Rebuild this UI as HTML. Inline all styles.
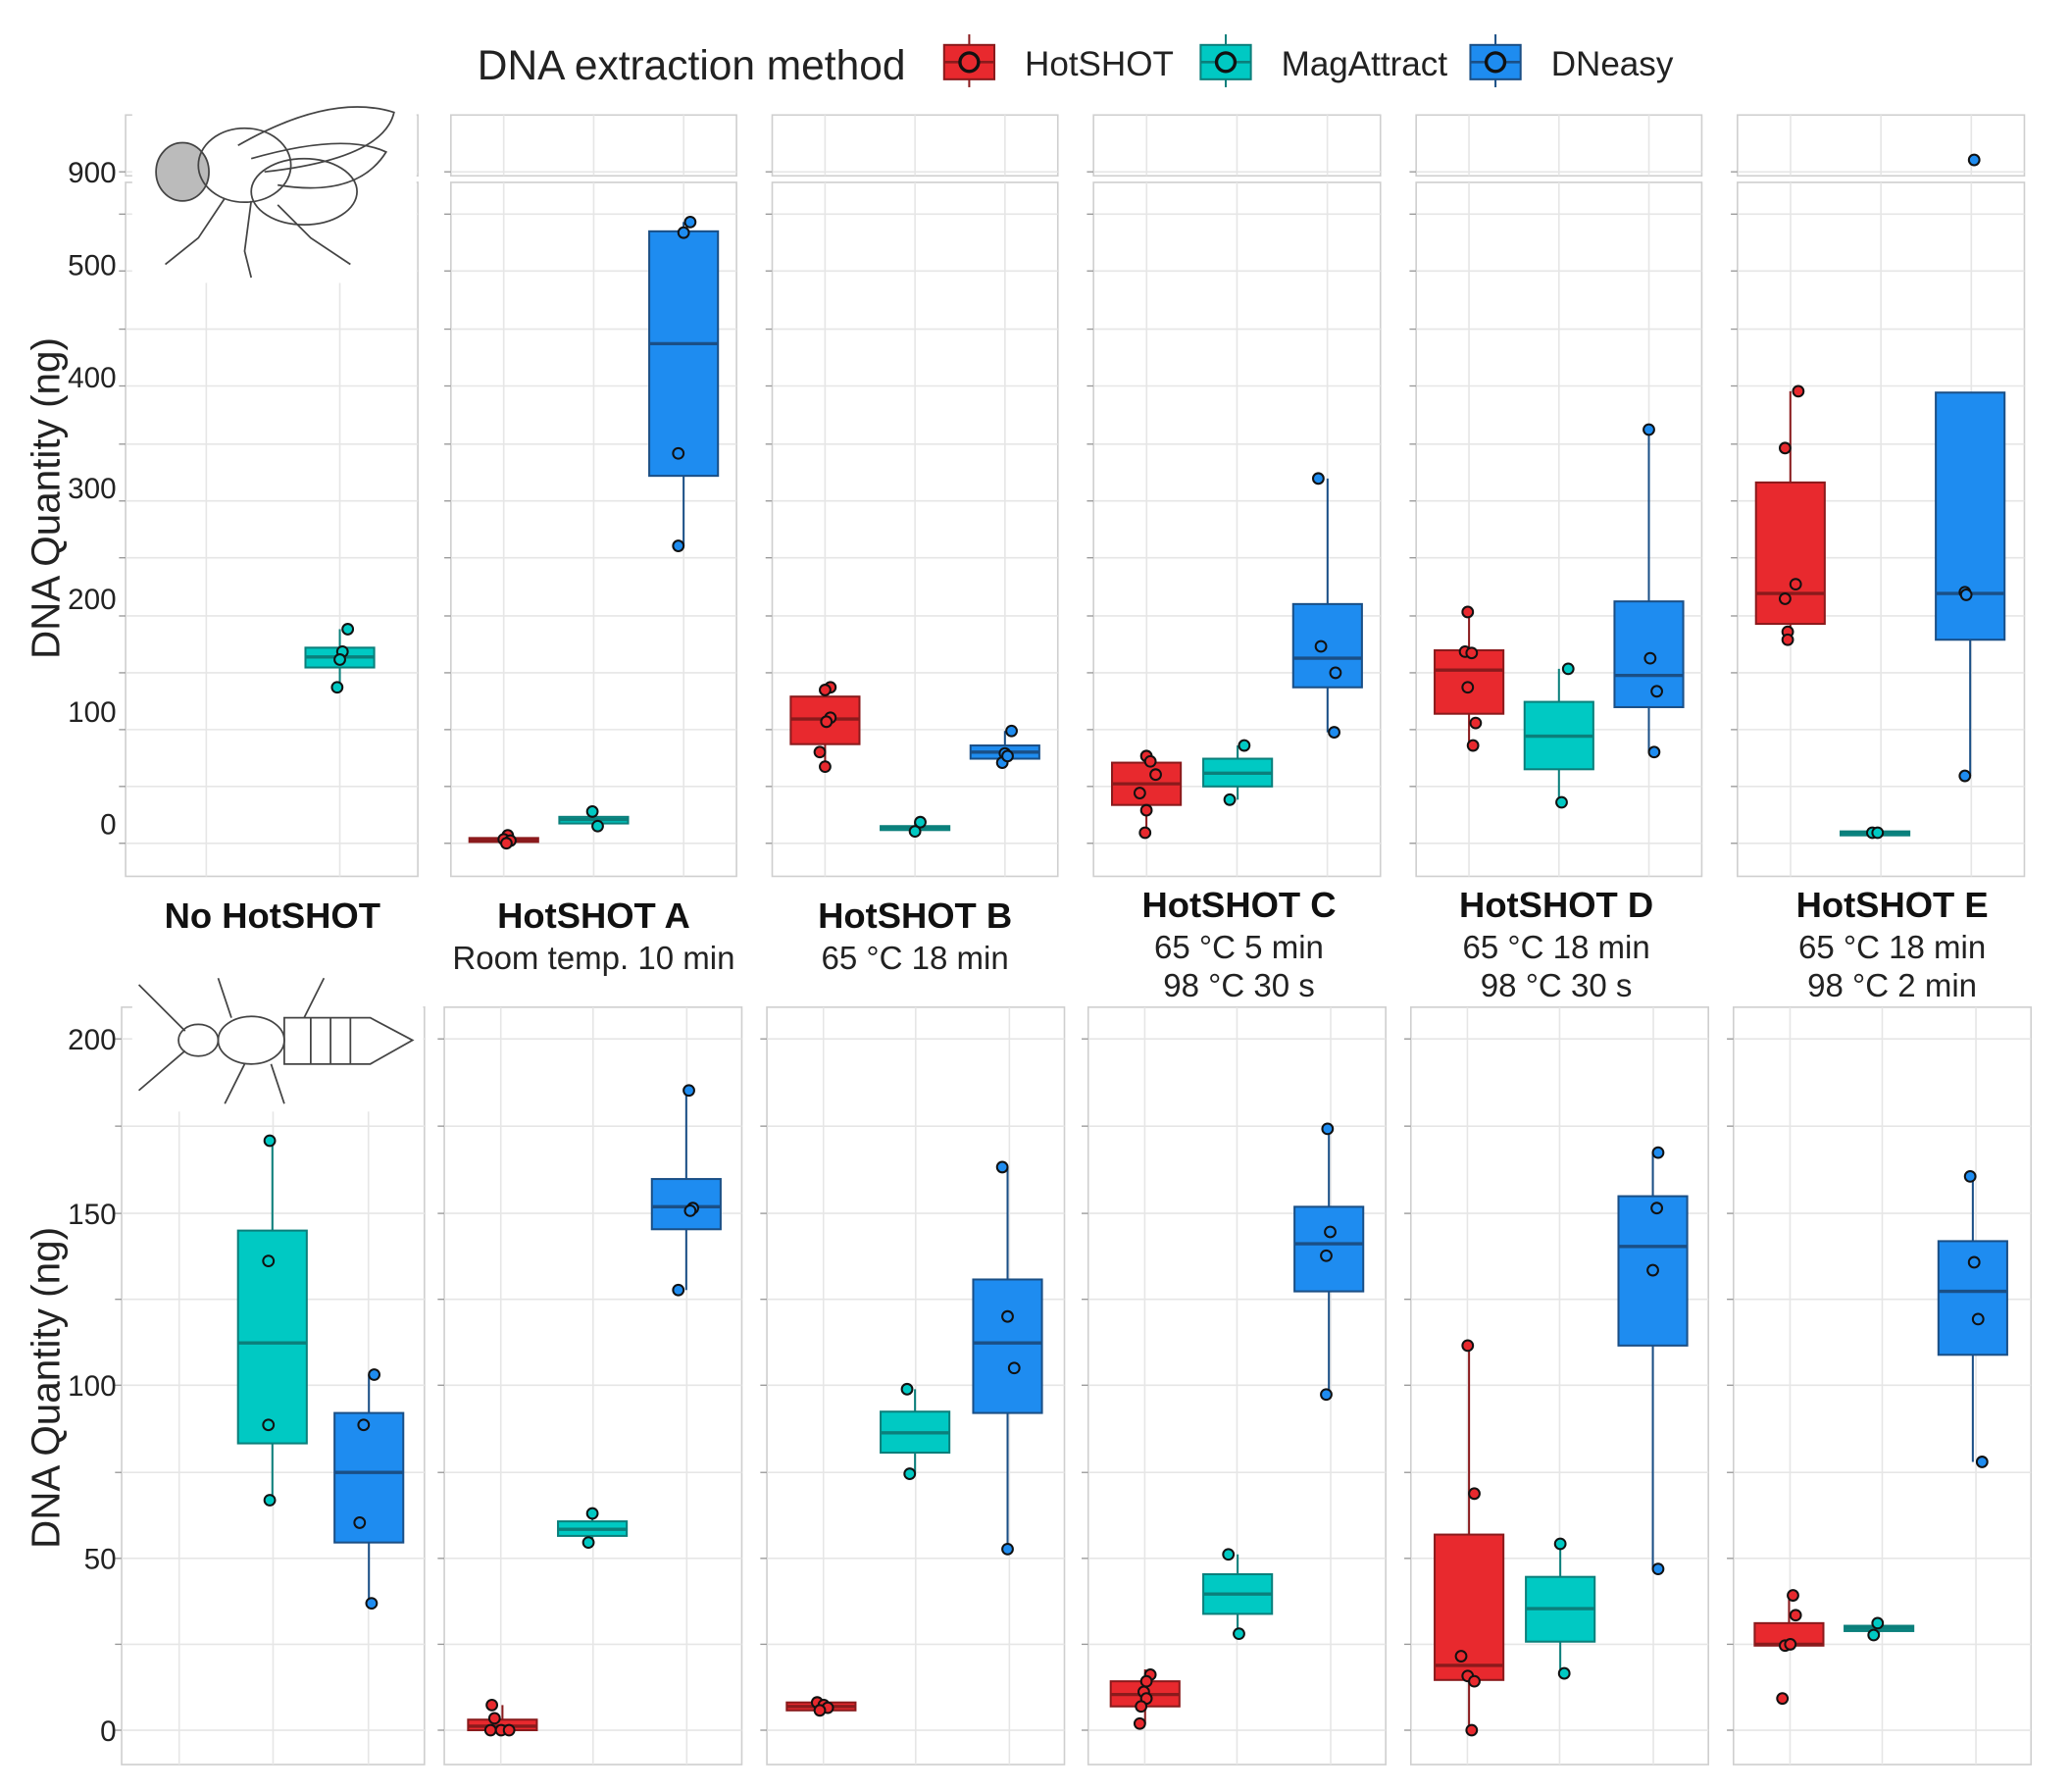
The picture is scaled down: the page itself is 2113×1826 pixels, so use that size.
<!DOCTYPE html>
<html><head><meta charset="utf-8"><style>html,body{margin:0;padding:0;background:#fff}svg{display:block}</style></head>
<body>
<svg id="s" width="2113" height="1826" viewBox="0 0 1567 1355" preserveAspectRatio="none" xmlns="http://www.w3.org/2000/svg" font-family="Liberation Sans, Arial, sans-serif"></svg>
<script>
const S=document.getElementById('s');let h='';
const C={r:['#e8292e','#8a1a1c'],c:['#00c9c3','#0b7f7b'],b:['#1e8cf0','#1a4f86']};
function panel(x0,x1,y0,y1,gy,gx){h+=`<rect x="${x0}" y="${y0}" width="${x1-x0}" height="${y1-y0}" fill="#fff" stroke="#cfcfcf" stroke-width="1.2"/>`;
gy.forEach(y=>h+=`<line x1="${x0}" x2="${x1}" y1="${y}" y2="${y}" stroke="#e6e6e6" stroke-width="1.2"/><line x1="${x0-5}" x2="${x0}" y1="${y}" y2="${y}" stroke="#999"/>`);
gx.forEach(x=>h+=`<line x1="${x}" x2="${x}" y1="${y0}" y2="${y1}" stroke="#e6e6e6" stroke-width="1.2"/>`);}
function box(k,x,q1,q3,md,wl,wh,pts,w){w=w||52;const[f,s]=C[k];
h+=`<line x1="${x}" x2="${x}" y1="${wh}" y2="${wl}" stroke="${s}" stroke-width="1.5"/>`;
h+=`<rect x="${x-w/2}" y="${q1}" width="${w}" height="${Math.max(q3-q1,3)}" fill="${f}" stroke="${s}" stroke-width="1.5"/>`;
h+=`<line x1="${x-w/2}" x2="${x+w/2}" y1="${md}" y2="${md}" stroke="${s}" stroke-width="2.5"/>`;
pts.forEach(p=>h+=`<circle cx="${p[0]}" cy="${p[1]}" r="4" fill="${f}" stroke="#111" stroke-width="1.5"/>`);}
const TX=[[95,316],[341,557],[584,800],[827,1044],[1071,1287],[1314,1531]];
TX.forEach(([a,b],i)=>{panel(a,b,87,133,[130],[a+(b-a)*.185,a+(b-a)*.5,a+(b-a)*.815]);
panel(a,b,138,663,[638,595,552,509,466,422,379,336,292,249,205,162],i==0?[156,257]:[a+(b-a)*.185,a+(b-a)*.5,a+(b-a)*.815]);});
box('c',257,490,505,497,520,476,[[263,476],[259,493],[257,499],[255,520]]);
box('r',381,634,637,636,638,632,[[384,632],[381,635],[386,636],[383,638]]);
box('c',449,618,623,620,625,614,[[448,614],[452,625]]);
box('b',517,175,360,260,413,168,[[522,168],[517,176],[513,343],[513,413]]);
box('r',624,527,563,544,580,520,[[628,520],[624,522],[628,543],[625,546],[620,569],[624,580]]);
box('c',692,625,628,626,629,622,[[696,622],[692,629]]);
box('b',760,564,574,569,577,553,[[765,553],[760,570],[758,577],[762,572]]);
box('r',867,577,609,593,630,570,[[867,572],[870,576],[874,586],[862,600],[867,613],[866,630]]);
box('c',936,574,595,585,605,564,[[941,564],[930,605]]);
box('b',1004,457,520,498,554,362,[[997,362],[999,489],[1010,509],[1009,554]]);
box('r',1111,492,540,507,564,463,[[1110,463],[1108,493],[1113,494],[1110,520],[1116,547],[1114,564]]);
box('c',1179,531,582,557,607,506,[[1186,506],[1181,607]]);
box('b',1247,455,535,511,569,325,[[1247,325],[1248,498],[1253,523],[1251,569]]);
box('r',1354,365,472,449,484,296,[[1360,296],[1350,339],[1358,442],[1350,453],[1352,478],[1352,484]]);
box('c',1418,629,631,630,631,629,[[1416,630],[1420,630]]);
box('b',1490,297,484,449,587,297,[[1486,448],[1487,450],[1486,587]]);
h+=`<circle cx="1493" cy="121" r="4" fill="#1e8cf0" stroke="#111" stroke-width="1.5"/>`;
const BX=[[92,321],[336,561],[580,805],[823,1048],[1067,1292],[1311,1536]];
BX.forEach(([a,b])=>panel(a,b,762,1335,[1309,1244,1179,1114,1048,983,918,852,786],[a+(b-a)*.19,a+(b-a)*.5,a+(b-a)*.815]));
box('c',206,931,1092,1016,1135,863,[[204,863],[203,954],[203,1078],[204,1135]]);
box('b',279,1069,1167,1114,1213,1040,[[283,1040],[275,1078],[272,1152],[281,1213]]);
box('r',380,1301,1309,1306,1309,1290,[[372,1290],[374,1300],[371,1309],[379,1309],[385,1309]]);
box('c',448,1151,1162,1157,1167,1145,[[448,1145],[445,1167]]);
box('b',519,892,930,913,976,825,[[521,825],[524,914],[522,916],[513,976]]);
box('r',621,1288,1294,1291,1296,1286,[[618,1288],[623,1290],[626,1292],[620,1294]]);
box('c',692,1068,1099,1084,1115,1051,[[686,1051],[688,1115]]);
box('b',762,968,1069,1016,1172,883,[[758,883],[762,996],[767,1035],[762,1172]]);
box('r',866,1272,1291,1282,1304,1263,[[870,1267],[867,1272],[865,1280],[867,1285],[863,1291],[862,1304]]);
box('c',936,1191,1221,1206,1236,1176,[[929,1176],[937,1236]]);
box('b',1005,913,977,941,1055,854,[[1004,854],[1006,932],[1003,950],[1003,1055]]);
box('r',1111,1161,1271,1260,1309,1018,[[1110,1018],[1115,1130],[1105,1253],[1110,1268],[1115,1272],[1113,1309]]);
box('c',1180,1193,1242,1217,1266,1168,[[1180,1168],[1183,1266]]);
box('b',1250,905,1018,943,1187,872,[[1254,872],[1253,914],[1250,961],[1254,1187]]);
box('r',1353,1228,1245,1244,1245,1207,[[1356,1207],[1358,1222],[1350,1245],[1354,1244],[1348,1285]]);
box('c',1421,1230,1234,1232,1237,1228,[[1420,1228],[1417,1237]]);
box('b',1492,939,1025,977,1106,890,[[1490,890],[1493,955],[1496,998],[1499,1106]]);
h+=`<rect x="100" y="76" width="215" height="138" fill="#fff"/>
<g fill="none" stroke="#444" stroke-width="1.3"><ellipse cx="138" cy="130" rx="20" ry="22" fill="#bbb"/><ellipse cx="185" cy="125" rx="35" ry="28"/><ellipse cx="230" cy="145" rx="40" ry="25"/>
<path d="M180 110 Q250 70 298 85 Q290 120 200 130"/><path d="M190 120 Q260 100 292 115 Q270 150 210 140"/>
<path d="M170 150 L150 180 L125 200 M190 152 L185 190 L190 210 M210 155 L235 180 L265 200"/></g>
<rect x="100" y="733" width="220" height="108" fill="#fff"/>
<g fill="none" stroke="#444" stroke-width="1.3"><ellipse cx="150" cy="787" rx="15" ry="12"/><ellipse cx="190" cy="787" rx="25" ry="18"/><path d="M215 770 L280 770 L312 787 L280 805 L215 805 Z"/>
<path d="M235 770 V805 M250 770 V805 M265 770 V805 M140 780 L105 745 M140 795 L105 825 M175 770 L165 740 M185 805 L170 835 M205 805 L215 835 M230 770 L245 740"/></g>`;
const tl=[[130,'900'],[200,'500'],[285,'400'],[369,'300'],[453,'200'],[538,'100'],[623,'0'],[786,'200'],[918,'150'],[1048,'100'],[1179,'50'],[1309,'0']];
tl.forEach(([y,t])=>h+=`<text x="88" y="${y+8}" font-size="22" text-anchor="end" fill="#222">${t}</text>`);
h+=`<text transform="translate(45,377) rotate(-90)" font-size="30" text-anchor="middle" fill="#222">DNA Quantity (ng)</text>`;
h+=`<text transform="translate(45,1050) rotate(-90)" font-size="30" text-anchor="middle" fill="#222">DNA Quantity (ng)</text>`;
const fl=[[206,'No HotSHOT',[]],[449,'HotSHOT A',['Room temp. 10 min']],[692,'HotSHOT B',['65 °C 18 min']],[937,'HotSHOT C',['65 °C 5 min','98 °C 30 s']],[1177,'HotSHOT D',['65 °C 18 min','98 °C 30 s']],[1431,'HotSHOT E',['65 °C 18 min','98 °C 2 min']]];
fl.forEach(([x,t,s])=>{const y0=s.length==2?694:702;h+=`<text x="${x}" y="${y0}" font-size="27" font-weight="bold" text-anchor="middle" fill="#111">${t}</text>`;
s.forEach((u,i)=>h+=`<text x="${x}" y="${y0+31+i*29}" font-size="24.5" text-anchor="middle" fill="#222">${u}</text>`);});
h+=`<text x="361" y="60" font-size="31.5" fill="#222">DNA extraction method</text>`;
[[714,'r','HotSHOT'],[908,'c','MagAttract'],[1112,'b','DNeasy']].forEach(([x,k,t])=>{const[f,s]=C[k];
h+=`<line x1="${x+19}" x2="${x+19}" y1="26" y2="66" stroke="${s}" stroke-width="1.5"/><rect x="${x}" y="34" width="38" height="26" fill="${f}" stroke="${s}" stroke-width="1.5"/><line x1="${x}" x2="${x+38}" y1="47" y2="47" stroke="${s}" stroke-width="2"/><circle cx="${x+19}" cy="47" r="7" fill="${f}" stroke="#111" stroke-width="2.5"/><text x="${x+61}" y="57" font-size="26" fill="#222">${t}</text>`;});
S.innerHTML=h;
</script>
</body></html>
